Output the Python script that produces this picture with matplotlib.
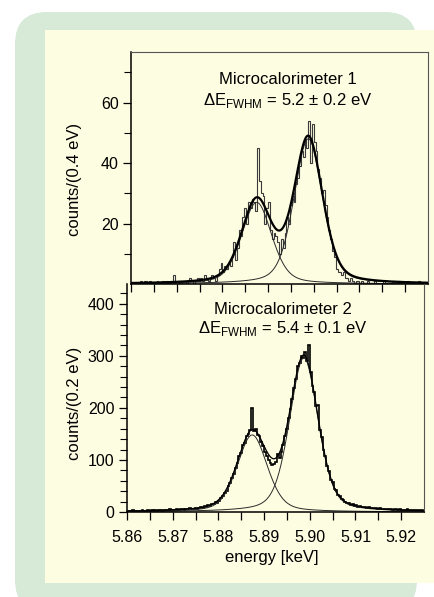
import numpy as np
import matplotlib
matplotlib.use("Agg")
import matplotlib.pyplot as plt
from matplotlib.patches import FancyBboxPatch, Rectangle

plt.rcParams['font.family'] = ['Liberation Sans', 'DejaVu Sans']
plt.rcParams['mathtext.fontset'] = 'custom'
plt.rcParams['mathtext.rm'] = 'Liberation Sans'

# energy binning (keV)
e_start = 5.860
e_stop = 5.925
bin_width = 0.0004

# Microcalorimeter 1, counts per 0.4 eV bin
counts_1 = [0, 0, 0, 0, 0,
            1, 0, 1, 1, 0, 1,
            0, 0, 0, 1, 0, 0, 1, 0, 1, 0, 0, 1,
            3, 0,
            0, 1, 0, 1, 1, 0, 1, 2, 1, 0, 1, 2, 1,
            2, 1, 3, 2, 1, 2, 3, 2, 1, 3,
            5, 7, 4, 6, 5, 7, 6,
            9, 14, 8, 12,
            18, 16, 22, 25, 20, 27, 25,
            28, 27, 24,
            45,
            34, 30, 29,
            20, 25,
            27,
            18, 15, 17, 16, 14, 10,
            15, 12, 17,
            22, 20, 26, 29, 27,
            33, 35, 39, 44, 42,
            48, 45, 54, 40, 53, 47, 44,
            38, 35, 30, 31, 26,
            22, 18, 15, 11, 9,
            5, 4, 4, 3, 4, 2,
            2, 1, 2, 1, 0, 1, 1,
            0, 1, 0, 0, 1, 0, 0, 0, 1, 0, 0, 0, 0, 1, 0, 0, 0, 0, 1,
            0, 0, 1, 0, 0, 0, 0, 1, 0, 0, 0, 0, 0, 1, 0, 0, 0, 0]

# Microcalorimeter 2, counts per bin
counts_2 = [2, 1, 2, 3, 1, 2, 2, 1, 3, 2,
            2, 3, 2, 4, 2, 3, 2, 3, 4, 2,
            3, 4, 3, 5, 3, 4, 4, 5, 3, 5,
            5, 4, 6, 5, 7, 5, 6, 8, 6, 7,
            9, 8, 11, 10, 13, 12, 16, 15, 19, 18,
            22, 27, 30, 36, 41, 50, 56, 66, 73, 85,
            95, 108, 114, 128, 133, 146, 150, 158, 200, 156,
            160, 148, 146, 134, 126, 116, 108, 100, 94, 90,
            92, 96, 112, 104, 116, 128, 146, 160, 180, 198,
            218, 238, 255, 280, 286, 300, 295, 308, 290, 320,
            268, 242, 230, 203, 206, 158, 145, 120, 108, 88,
            79, 62, 57, 44, 42, 33, 31, 25, 24, 19,
            17, 18, 14, 15, 12, 13, 10, 12, 9, 10,
            9, 8, 9, 8, 7, 8, 7, 6, 7, 6,
            6, 5, 6, 5, 5, 4, 5, 5, 4, 5,
            4, 4, 3, 5, 4, 3, 4, 3, 3, 4, 3, 3]

# fitted line components: centre (keV), height (counts), FWHM (keV)
fit_centers_1 = [5.8875, 5.8988]
fit_heights_1 = [27.0, 48.0]
fit_centers_2 = [5.8874, 5.8987]
fit_heights_2 = [148.0, 296.0]
fit_fwhms = [0.0078, 0.0074]
lorentz_frac = 0.35

titles = ['Microcalorimeter 1', 'Microcalorimeter 2']
resolutions = ['5.2 \u00b1 0.2', '5.4 \u00b1 0.1']
ylabels = ['counts/(0.4 eV)', 'counts/(0.2 eV)']


def line_shape(e, c, h, w):
    u = ((e - c) / (w / 2)) ** 2
    return h * (lorentz_frac / (1 + u) + (1 - lorentz_frac) * np.exp(-np.log(2) * u))


W, H = 435, 597
fig = plt.figure(figsize=(W / 100, H / 100), dpi=100, facecolor='white')

bg = fig.add_axes([0, 0, 1, 1])
bg.set_xlim(0, W)
bg.set_ylim(H, 0)
bg.axis('off')
bg.add_patch(FancyBboxPatch((15, 12), 402, 600, boxstyle='round,pad=0,rounding_size=32',
                            facecolor='#d7e9d7', edgecolor='none'))
bg.add_patch(Rectangle((45, 30), 400, 553, facecolor='#fdfde1', edgecolor='none'))

# axes boxes in pixels: left, top, right, bottom
boxes = [(131, 52, 428, 284), (127, 284, 424, 512)]
axs = []
for l, t, r, b in boxes:
    ax = fig.add_axes([l / W, 1 - b / H, (r - l) / W, (b - t) / H])
    ax.set_facecolor('none')
    axs.append(ax)
ax1, ax2 = axs

edges = e_start + bin_width * np.arange(len(counts_1) + 1)
e_fine = np.linspace(e_start, e_stop, 800)

# top panel
ax1.stairs(counts_1, edges, color='#3a3a3a', lw=0.8)
comps = [line_shape(e_fine, c, h, w) for c, h, w in zip(fit_centers_1, fit_heights_1, fit_fwhms)]
for comp in comps:
    ax1.plot(e_fine, comp, color='#2a2a2a', lw=0.7)
ax1.plot(e_fine, comps[0] + comps[1], color='black', lw=1.6)
ax1.set_ylim(0, 76.7)
ax1.set_yticks([20, 40, 60])
ax1.set_yticks([10, 30, 50, 70], minor=True)

# bottom panel
ax2.stairs(counts_2, edges, color='black', lw=1.2)
comps = [line_shape(e_fine, c, h, w) for c, h, w in zip(fit_centers_2, fit_heights_2, fit_fwhms)]
for comp in comps:
    ax2.plot(e_fine, comp, color='#2a2a2a', lw=0.7)
ax2.plot(e_fine, comps[0] + comps[1], color='black', lw=0.9)
ax2.set_ylim(0, 438)
ax2.set_yticks([0, 100, 200, 300, 400])
ax2.set_yticks(np.arange(20, 440, 20), minor=True)

for ax in axs:
    ax.set_xlim(e_start, e_stop)
    ax.set_xticks(np.arange(5.86, 5.921, 0.01))
    ax.set_xticks(np.arange(5.865, 5.925, 0.01), minor=True)
    ax.tick_params(axis='both', which='both', direction='out', color='black',
                   labelsize=11.5, top=False, right=False)
    ax.tick_params(axis='y', which='major', length=6, width=0.9, pad=3)
    ax.tick_params(axis='y', which='minor', length=5, width=0.8)
    ax.tick_params(axis='x', which='both', length=6, width=0.9, pad=7)
    for s in ['top', 'right']:
        ax.spines[s].set_color('#555555')
        ax.spines[s].set_linewidth(0.8)
    for s in ['left', 'bottom']:
        ax.spines[s].set_linewidth(1.1)

ax1.tick_params(axis='x', labelbottom=False)
ax2.spines['top'].set_visible(False)
ax2.set_xticklabels(['5.86', '5.87', '5.88', '5.89', '5.90', '5.91', '5.92'])

ax1.set_ylabel(ylabels[0], fontsize=12)
ax1.yaxis.set_label_coords(-0.165, 0.45)
ax2.set_ylabel(ylabels[1], fontsize=12)
ax2.yaxis.set_label_coords(-0.152, 0.478)
ax2.set_xlabel('energy [keV]', fontsize=12)
ax2.xaxis.set_label_coords(0.488, -0.165)

# panel captions
caption_pos = [(288, 80, 100), (283, 309, 328)]
for (cx, y1, y2), title, res in zip(caption_pos, titles, resolutions):
    fig.text(cx / W, 1 - y1 / H, title, ha='center', va='center', fontsize=12)
    fig.text(cx / W, 1 - y2 / H, '\u0394E$_\\mathregular{FWHM}$ = ' + res + ' eV',
             ha='center', va='center', fontsize=12)

fig.savefig('out.png', dpi=100)
